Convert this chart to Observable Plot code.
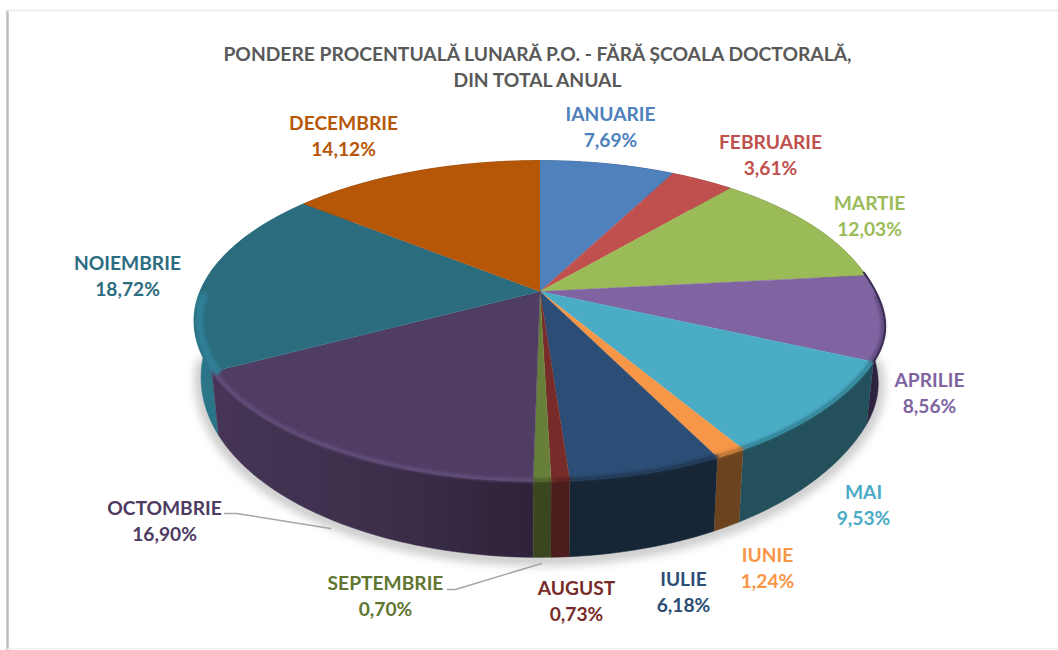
<!DOCTYPE html>
<html>
<head>
<meta charset="utf-8">
<script src="https://cdn.jsdelivr.net/npm/d3@7"></script>
<script src="https://cdn.jsdelivr.net/npm/@observablehq/plot@0.6"></script>
<style>html,body{margin:0;padding:0;background:#fff}svg{display:block}</style>
</head>
<body>
<div id="chart"></div>
<script>
// ---- data ----
const titleLines = ["PONDERE PROCENTUALĂ LUNARĂ P.O. - FĂRĂ ȘCOALA DOCTORALĂ,", "DIN TOTAL ANUAL"];
const months = ["IANUARIE","FEBRUARIE","MARTIE","APRILIE","MAI","IUNIE","IULIE","AUGUST","SEPTEMBRIE","OCTOMBRIE","NOIEMBRIE","DECEMBRIE"];
const shares = [7.69,3.61,12.03,8.56,9.53,1.24,6.18,0.73,0.70,16.90,18.72,14.12];

// ---- styles ----
const topColors  = ["#4f81bd","#c0504d","#9bbb59","#8064a2","#4bacc6","#f79646","#2c4d75","#772c2a","#677f38","#4f3d63","#2c6c7f","#b65708"];
const textColors = ["#4f81bd","#c0504d","#9bbb59","#8064a2","#4bacc6","#f79646","#2c4d75","#772c2a","#5f7530","#4d3b62","#2c6c7f","#b65708"];
const wallColors = ["#2a4566","#682b2a","#546532","#2f2440","#23505a","#6b441f","#172636","#4a1c1c","#3a4620","url(#octWall)","#2a7588","#633004"];
const rimColors  = [null,null,null,"#5a4678","#2f7d90","#b07034","#1f3752","#5a2120","#4f6029","#64507e","#2f7f96",null];

// ---- layout ----
const labelX = [610,770,869,929,863,767,683,576,385,164,127,343];
const labelY = [125,153,214,391,503,566,590,599,594,519,274,134];
const leaders = [
  {id:"oct", xs:[224,236,330], ys:[513,513,528]},
  {id:"sep", xs:[447,455,541], ys:[589,589,563]}
];
const cx = 539.5, cy = 291, Aleft = 340, Aright = 333, B = 155, k = 0.1837;

// projection of a point of the pie's rim, angle measured clockwise from the top
const rimTop = t => {
  const u = Math.sin(t), v = -Math.cos(t), d = 1 - k * v;
  const a = u < 0 ? Aleft : Aright + 7 * Math.exp(-(((v - 0.3) / 0.3) ** 2));
  return {x: cx + a * u / d, y: cy + B * v / d, v};
};
const rimBottom = t => {
  const p = rimTop(t);
  return {x: cx + (p.x - cx) * 0.98, y: p.y + 52 + 24 * p.v, v: p.v};
};
const inset = f => p => ({x: cx + (p.x - cx) * f, y: cy + (p.y - cy) * f, v: p.v});
const arcAngles = (a0, a1) => {
  const n = Math.max(2, Math.ceil((a1 - a0) / 0.02));
  return d3.range(n + 1).map(i => a0 + (a1 - a0) * i / n);
};

const arcs = d3.pie().sort(null).value(d => d)(shares);
const faces = arcs.map((a, i) => {
  const ts = arcAngles(a.startAngle, a.endAngle);
  const mid = (a.startAngle + a.endAngle) / 2;
  return {
    i,
    depth: -Math.cos(mid),
    top: [{x: cx, y: cy}, ...ts.map(rimTop)],
    wall: [...ts.map(rimTop), ...ts.map(rimBottom).reverse()],
    rim: ts.map(rimTop).filter(p => p.v > 0.02).map(inset(i === 10 ? 0.985 : 0.994)),
    edge: ts.map(rimTop).filter(p => p.v > -0.13 && p.v <= 0.45)
  };
});
const shadowArc = arcAngles(0, 2 * Math.PI).map(rimBottom).filter(p => p.v > 0.1);

const labelRows = months.map((m, i) => ({
  x: labelX[i], y: labelY[i],
  text: m + "\n" + shares[i].toFixed(2).replace(".", ",") + "%",
  color: textColors[i]
}));

const defs = () => {
  const g = d3.create("svg:g");
  const grad = g.append("defs").append("linearGradient")
    .attr("id", "octWall").attr("gradientUnits", "userSpaceOnUse")
    .attr("x1", 215).attr("x2", 530).attr("y1", 0).attr("y2", 0);
  grad.append("stop").attr("offset", 0).attr("stop-color", "#463556");
  grad.append("stop").attr("offset", 0.55).attr("stop-color", "#3c2e4b");
  grad.append("stop").attr("offset", 1).attr("stop-color", "#2e233a");
  return g.node();
};

const plot = Plot.plot({
  width: 1058, height: 650,
  margin: 0,
  x: {domain: [0, 1058], range: [0, 1058], axis: null},
  y: {domain: [0, 650], range: [0, 650], axis: null},
  color: {type: "identity"},
  style: {background: "#fff"},
  marks: [
    defs,
    // frame
    Plot.ruleX([7], {y1: 10, y2: 650, stroke: "#bdbdbd", strokeWidth: 2.5}),
    Plot.ruleY([10], {x1: 7, x2: 1058, stroke: "#eeeeee", strokeWidth: 2}),
    Plot.ruleY([648], {x1: 7, x2: 1058, stroke: "#f0f0f0", strokeWidth: 1.5}),
    // soft shadow under the pie
    Plot.line(shadowArc, {x: "x", y: d => d.y + 2, stroke: "#9a9a9a", strokeWidth: 12, strokeOpacity: 0.55, imageFilter: "blur(5px)"}),
    // side walls, back to front
    ...d3.sort(faces, f => f.depth).map(f =>
      Plot.line(f.wall, {x: "x", y: "y", fill: wallColors[f.i], stroke: wallColors[f.i], strokeWidth: 0.5})),
    // top faces
    ...faces.map(f =>
      Plot.line(f.top, {x: "x", y: "y", fill: topColors[f.i], stroke: topColors[f.i], strokeWidth: 0.5})),
    // soft bevel along the front rim
    ...faces.filter(f => rimColors[f.i] && f.rim.length > 1).map(f =>
      Plot.line(f.rim, {x: "x", y: "y", stroke: rimColors[f.i], strokeWidth: f.i === 10 ? 8 : 3.5, imageFilter: "blur(1.5px)"})),
    // thin dark edge on the right, where the wall turns away
    ...faces.filter(f => f.i === 2 || f.i === 3).map(f =>
      Plot.line(f.edge, {x: "x", y: "y", stroke: "#3a2c52", strokeWidth: 2, imageFilter: "blur(0.6px)"})),
    // leader lines
    ...leaders.map(l =>
      Plot.line(l.xs.map((x, j) => ({x, y: l.ys[j]})), {x: "x", y: "y", stroke: "#a6a6a6", strokeWidth: 1.5})),
    // labels
    Plot.text(labelRows, {x: "x", y: "y", text: "text", fill: "color", fontFamily: "Lato", fontWeight: 700, fontSize: 19.2, lineHeight: 1.39, textAnchor: "middle"}),
    Plot.text([titleLines.join("\n")], {x: () => 537, y: () => 65, text: d => d, fill: "#595959", fontFamily: "Lato", fontWeight: 700, fontSize: 19.25, lineHeight: 1.37, textAnchor: "middle"})
  ]
});
document.getElementById("chart").append(plot);
</script>
</body>
</html>
